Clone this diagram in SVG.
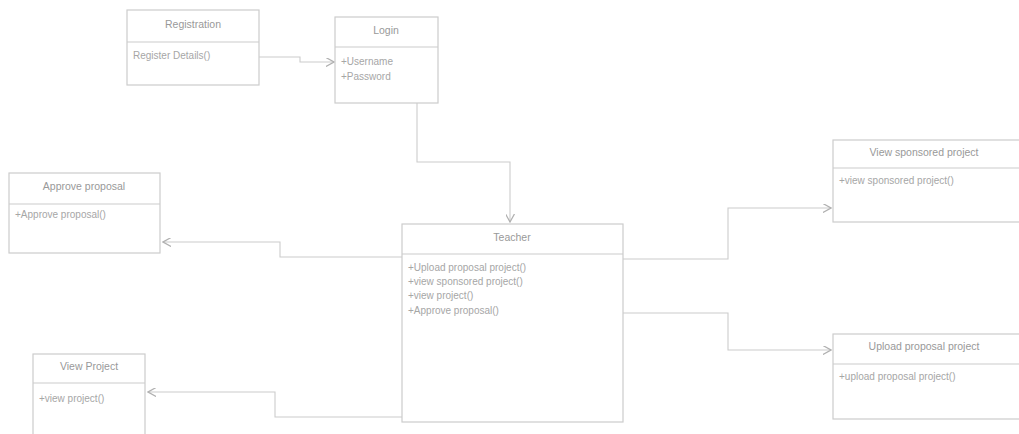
<svg xmlns="http://www.w3.org/2000/svg" width="1019" height="434" viewBox="0 0 1019 434">
  <style>
    .box { fill: #ffffff; stroke: #cccccc; stroke-width: 1.2; }
    .sep { stroke: #cccccc; stroke-width: 1.2; }
    .title { font-family: "Liberation Sans", Arial, sans-serif; font-size: 10.5px; fill: #999999; text-anchor: middle; }
    .member { font-family: "Liberation Sans", Arial, sans-serif; font-size: 10px; fill: #a6a6a6; }
    .link { fill: none; stroke: #cccccc; stroke-width: 1.1; marker-end: url(#open); }
  </style>
  <defs>
    <marker id="open" viewBox="0 0 10 10" refX="9" refY="5" markerWidth="9" markerHeight="9" markerUnits="userSpaceOnUse" orient="auto">
      <path d="M0,0 L9,5 L0,10" fill="none" stroke="#b0b0b0" stroke-width="1.4"/>
    </marker>
  </defs>
  <rect width="1019" height="434" fill="#ffffff"/>

  <g id="connectors">
    <!-- Registration to Login -->
    <polyline class="link" points="259,57 300,57 300,62 334,62"/>
    <!-- Login to Teacher -->
    <polyline class="link" points="417,103 417,162 510,162 510,222"/>
    <!-- Teacher to Approve proposal -->
    <polyline class="link" points="402,257 280,257 280,242 163,242"/>
    <!-- Teacher to View Project -->
    <polyline class="link" points="402,417 275,417 275,392 148,392"/>
    <!-- Teacher to View sponsored project -->
    <polyline class="link" points="623,259 728,259 728,208 831,208"/>
    <!-- Teacher to Upload proposal project -->
    <polyline class="link" points="623,313 728,313 728,350 831,350"/>
  </g>

  <g id="registration">
    <rect class="box" x="127" y="10" width="132" height="75"/>
    <line class="sep" x1="127" y1="42" x2="259" y2="42"/>
    <text class="title" x="193" y="28">Registration</text>
    <text class="member" x="133" y="59">Register Details()</text>
  </g>

  <g id="login">
    <rect class="box" x="335" y="17" width="103" height="86"/>
    <line class="sep" x1="335" y1="47" x2="438" y2="47"/>
    <text class="title" x="386" y="34">Login</text>
    <text class="member" x="341" y="65">+Username</text>
    <text class="member" x="341" y="80">+Password</text>
  </g>

  <g id="approve-proposal">
    <rect class="box" x="9" y="173" width="151" height="80"/>
    <line class="sep" x1="9" y1="204" x2="160" y2="204"/>
    <text class="title" x="84" y="190">Approve proposal</text>
    <text class="member" x="15" y="218">+Approve proposal()</text>
  </g>

  <g id="teacher">
    <rect class="box" x="402" y="224" width="221" height="198"/>
    <line class="sep" x1="402" y1="254" x2="623" y2="254"/>
    <text class="title" x="512" y="241">Teacher</text>
    <text class="member" x="408" y="271">+Upload proposal project()</text>
    <text class="member" x="408" y="285">+view sponsored project()</text>
    <text class="member" x="408" y="299">+view project()</text>
    <text class="member" x="408" y="314">+Approve proposal()</text>
  </g>

  <g id="view-sponsored-project">
    <rect class="box" x="833" y="140" width="190" height="82"/>
    <line class="sep" x1="833" y1="168" x2="1023" y2="168"/>
    <text class="title" x="924" y="156">View sponsored project</text>
    <text class="member" x="839" y="184">+view sponsored project()</text>
  </g>

  <g id="upload-proposal-project">
    <rect class="box" x="833" y="334" width="190" height="85"/>
    <line class="sep" x1="833" y1="364" x2="1023" y2="364"/>
    <text class="title" x="924" y="350">Upload proposal project</text>
    <text class="member" x="839" y="380">+upload proposal project()</text>
  </g>

  <g id="view-project">
    <rect class="box" x="33" y="354" width="112" height="90"/>
    <line class="sep" x1="33" y1="383" x2="145" y2="383"/>
    <text class="title" x="89" y="370">View Project</text>
    <text class="member" x="39" y="402">+view project()</text>
  </g>
</svg>
